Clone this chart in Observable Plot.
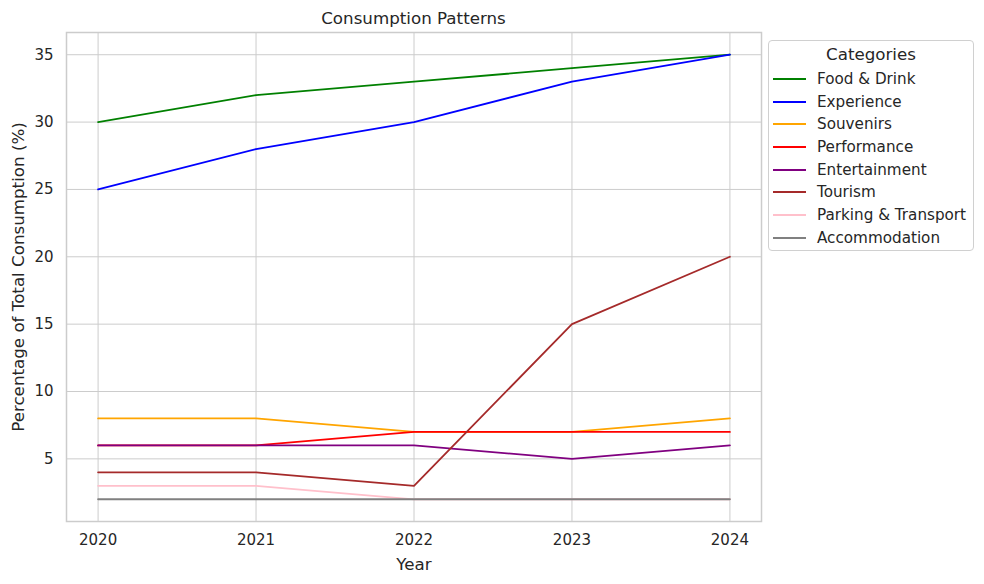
<!DOCTYPE html>
<html>
<head>
<meta charset="utf-8">
<script src="https://cdn.jsdelivr.net/npm/d3@7"></script>
<script src="https://cdn.jsdelivr.net/npm/@observablehq/plot@0.6"></script>
<style>
  html, body { margin: 0; padding: 0; background: #fff; }
  body { font-family: "DejaVu Sans", sans-serif; color: #262626; }
  #wrap { position: relative; width: 984px; height: 584px; }
  #title { position: absolute; left: 66px; width: 695px; top: 8px; text-align: center; font-size: 16.7px; line-height: 20px; }
  #chart { position: absolute; left: 0; top: 28px; }
  #legend { position: absolute; left: 768px; top: 40px; width: 206px; height: 211px; border: 1px solid #d0d0d0; border-radius: 4px; background: #fff; box-sizing: border-box; }
  #legend .lt { text-align: center; font-size: 16.7px; margin-top: 2px; margin-bottom: 3px; height: 22px; line-height: 22px; }
  #legend .row { position: relative; height: 22.7px; }
  #legend .sw { position: absolute; left: 4px; top: 10px; width: 33px; height: 2px; }
  #legend .lab { position: absolute; left: 48px; top: 1px; font-size: 15.2px; line-height: 20px; white-space: nowrap; }
</style>
</head>
<body>
<div id="wrap">
  <div id="title">Consumption Patterns</div>
  <div id="chart"></div>
  <div id="legend"></div>
</div>
<script>
const years = [2020, 2021, 2022, 2023, 2024];
const categories = ["Food & Drink", "Experience", "Souvenirs", "Performance", "Entertainment", "Tourism", "Parking & Transport", "Accommodation"];
const colors = ["green", "blue", "orange", "red", "purple", "brown", "pink", "gray"];
const foodDrink = [30, 32, 33, 34, 35];
const experience = [25, 28, 30, 33, 35];
const souvenirs = [8, 8, 7, 7, 8];
const performance = [6, 6, 7, 7, 7];
const entertainment = [6, 6, 6, 5, 6];
const tourism = [4, 4, 3, 15, 20];
const parkingTransport = [3, 3, 2, 2, 2];
const accommodation = [2, 2, 2, 2, 2];
const yTicks = [5, 10, 15, 20, 25, 30, 35];

const series = [foodDrink, experience, souvenirs, performance, entertainment, tourism, parkingTransport, accommodation];
const rows = [];
categories.forEach((c, i) => years.forEach((y, j) => rows.push({category: c, year: y, value: series[i][j]})));

const plot = Plot.plot({
  width: 984,
  height: 556,
  marginLeft: 66,
  marginRight: 223,
  marginTop: 4,
  marginBottom: 63,
  style: {fontFamily: "DejaVu Sans, sans-serif", fontSize: "15px", color: "#262626", background: "#fff"},
  x: {domain: [2019.8, 2024.2]},
  y: {domain: [0.35, 36.65]},
  color: {domain: categories, range: colors},
  marks: [
    Plot.gridX(years, {stroke: "#cccccc", strokeOpacity: 1, strokeWidth: 1}),
    Plot.gridY(yTicks, {stroke: "#cccccc", strokeOpacity: 1, strokeWidth: 1}),
    Plot.axisX(years, {tickSize: 0, tickPadding: 13, tickFormat: d => String(d), fontSize: 15, label: "Year", labelAnchor: "center", labelArrow: "none", labelOffset: 48}),
    Plot.axisY(yTicks, {tickSize: 0, tickPadding: 13, fontSize: 15, label: "Percentage of Total Consumption (%)", labelAnchor: "center", labelArrow: "none", labelOffset: 54}),
    Plot.line(rows, {x: "year", y: "value", z: "category", stroke: "category", strokeWidth: 1.8}),
    Plot.frame({stroke: "#cccccc", strokeWidth: 1.5})
  ]
});
plot.querySelectorAll("g[aria-label='x-axis label'] text, g[aria-label='y-axis label'] text").forEach(t => t.setAttribute("font-size", "16.7px"));
plot.querySelectorAll("g[aria-label='x-axis label'], g[aria-label='y-axis label']").forEach(g => g.setAttribute("font-size", "16.7px"));
document.getElementById("chart").appendChild(plot);

const leg = document.getElementById("legend");
const t = document.createElement("div");
t.className = "lt"; t.textContent = "Categories"; leg.appendChild(t);
categories.forEach((c, i) => {
  const r = document.createElement("div"); r.className = "row";
  const s = document.createElement("div"); s.className = "sw"; s.style.background = colors[i];
  const l = document.createElement("div"); l.className = "lab"; l.textContent = c;
  r.appendChild(s); r.appendChild(l); leg.appendChild(r);
});
</script>
</body>
</html>
